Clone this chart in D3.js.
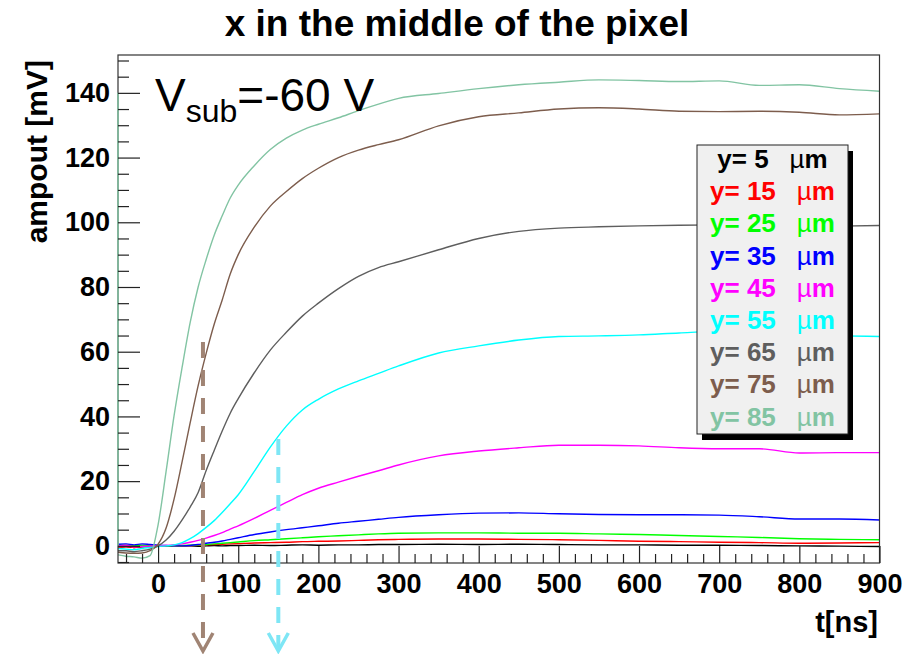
<!DOCTYPE html>
<html>
<head>
<meta charset="utf-8">
<script src="https://cdn.jsdelivr.net/npm/d3@7"></script>
<style>
  body { margin: 0; background: #fff; }
  svg { display: block; }
  text { font-family: "Liberation Sans", Arial, Helvetica, sans-serif; }
</style>
</head>
<body>
<svg id="chart" width="903" height="654"></svg>
<script>
// Sampling times of the amplifier output [ns]
const timesNs = [-50, -40, -30, -20, -10, 0, 10, 20, 30, 40, 50, 60, 70, 80, 90, 100,
  120, 140, 160, 180, 200, 225, 250, 275, 300,
  350, 400, 450, 500, 550, 600, 650, 700, 750, 800, 850, 900];

// Amplifier output [mV] for each injection depth y
const trace5  = [-0.4, -0.2, -0.5, -0.3, -0.2, 0, 0, 0.1, 0, 0, -0.1, 0, 0.1, 0, 0.1, 0.1,
  0.2, 0.1, 0.2, 0.3, 0.2, 0.3, 0.3, 0.4, 0.4,
  0.5, 0.4, 0.5, 0.4, 0.3, 0.3, 0.2, 0.2, 0.1, 0, -0.1, -0.2];
const trace15 = [-0.5, -0.3, -0.5, -0.3, -0.2, 0, 0, 0, 0, 0.1, 0.2, 0.3, 0.4, 0.5, 0.6, 0.7,
  0.9, 1.0, 1.1, 1.3, 1.4, 1.5, 1.7, 1.9, 2.0,
  2.1, 2.1, 2.0, 1.9, 1.7, 1.4, 1.3, 1.1, 1.0, 0.8, 0.9, 1.0];
const trace25 = [0.2, 0.3, 0, 0.2, 0, 0, 0, 0, 0.1, 0.2, 0.3, 0.4, 0.6, 0.8, 1.0, 1.2,
  1.6, 1.9, 2.2, 2.5, 2.8, 3.1, 3.4, 3.7, 3.9,
  4.0, 4.0, 3.9, 3.9, 3.7, 3.5, 3.2, 2.9, 2.6, 2.2, 2.0, 1.9];
const trace35 = [0.5, 0.6, 0.3, 0.6, 0.4, 0.2, 0.1, 0, 0, 0.1, 0.4, 0.8, 1.1, 1.5, 2.0, 2.5,
  3.5, 4.3, 5.0, 5.6, 6.2, 7.0, 7.6, 8.2, 8.8,
  9.6, 10.1, 10.2, 9.9, 9.7, 9.6, 9.6, 9.5, 9.0, 8.3, 8.3, 8.0];
const trace45 = [0, 0.2, -0.3, -0.2, -0.1, 0, 0.1, 0.3, 0.6, 1.1, 1.7, 2.4, 3.2, 4.1, 5.2, 6.2,
  8.5, 11, 13.4, 15.8, 17.8, 19.7, 21.5, 23.2, 25,
  27.8, 29.3, 30.3, 31.1, 31.1, 30.9, 30.3, 30, 30, 28.7, 28.8, 28.8];
const trace55 = [-0.8, -1, -1.2, -0.8, -0.5, -0.2, 0, 0.3, 1, 2.2, 3.8, 5.7, 7.8, 10.3, 13, 15.8,
  23, 30.5, 37, 42, 45.3, 48.5, 51, 53.3, 55.6,
  59.6, 61.8, 63.6, 64.7, 64.9, 65.2, 65.8, 66.3, 66.1, 65.2, 64.9, 64.7];
const trace65 = [-1.5, -1.5, -1.8, -1.5, -1, 0, 1.8, 4.5, 8, 12, 16.5, 23.3, 29.5, 35.5, 41, 45.5,
  53.5, 60.5, 66, 71, 75, 79.5, 83.3, 86, 87.8,
  91.5, 95, 97.2, 98.2, 98.6, 98.9, 99.1, 99.2, 99, 98.7, 98.8, 99];
const trace75 = [-2, -2.2, -2.3, -2.2, -1.5, 0.5, 5.5, 14.5, 26, 38, 49.5, 59.5, 68.5, 76, 84, 90,
  98.5, 105, 109.5, 113.5, 116.7, 120, 122.3, 124, 125.5,
  129.8, 132.6, 133.8, 135, 135.4, 135, 134.3, 134.2, 134.3, 134, 133.2, 133.5];
const trace85 = [-2.8, -3.2, -3.4, -3.8, -3.0, 6.5, 23, 40.3, 55.2, 69, 80, 88.5, 96, 102, 107.5, 111.5,
  117.5, 122.5, 126, 128.5, 130.3, 132.3, 134.5, 136.5, 138.3,
  139.8, 141.3, 142.5, 143.3, 144, 143.8, 143.5, 143.7, 142.3, 142.5, 141.3, 140.5];

const depthsUm = [5, 15, 25, 35, 45, 55, 65, 75, 85];
const traces = [trace5, trace15, trace25, trace35, trace45, trace55, trace65, trace75, trace85];
const traceColors = ["#000000", "#ff0000", "#00ff00", "#0000ff", "#ff00ff",
  "#00ffff", "#5e5e5e", "#7d5d4d", "#82c4a3"];

// Marked times (dashed arrows) and the amplitude where each marker starts
const markerTimes = [56, 150];
const markerTops = [63, 33];
const markerColors = ["#a08474", "#7ee6f5"];

// Tick values
const xMajorTicks = d3.range(0, 901, 100);
const xMinorTicks = d3.range(-40, 901, 20).filter(v => v % 100 !== 0);
const yMajorTicks = d3.range(0, 141, 20);
const yMinorTicks = d3.range(-5, 151, 5).filter(v => v % 20 !== 0);

const svg = d3.select("#chart");
const L = 118, R = 879.5, T = 55, B = 563;

const x = d3.scaleLinear().domain([-50, 900]).range([L, R]);
const y = d3.scaleLinear().domain([-5.3, 151.7]).range([B, T]);

svg.append("rect").attr("width", 903).attr("height", 654).attr("fill", "#fff");

svg.append("defs").append("clipPath").attr("id", "plotClip")
  .append("rect").attr("x", L).attr("y", T).attr("width", R - L).attr("height", B - T);

// Traces
const line = d3.line().x((d, i) => x(timesNs[i])).y(d => y(d)).curve(d3.curveMonotoneX);
const traceG = svg.append("g").attr("clip-path", "url(#plotClip)");
traces.forEach((vals, k) => {
  traceG.append("path")
    .attr("d", line(vals))
    .attr("fill", "none")
    .attr("stroke", traceColors[k])
    .attr("stroke-width", 1.4)
    .attr("stroke-linejoin", "round");
});

// Frame
svg.append("rect").attr("x", L).attr("y", T).attr("width", R - L).attr("height", B - T)
  .attr("fill", "none").attr("stroke", "#333").attr("stroke-width", 1.2);

// The 85 um trace enters along the left edge of the window
svg.append("line")
  .attr("x1", L).attr("x2", L)
  .attr("y1", y(0)).attr("y2", y(140))
  .attr("stroke", traceColors[8]).attr("stroke-width", 1.5);

// Axes (ticks point into the frame)
function styleAxis(g, size) {
  g.select(".domain").remove();
  g.selectAll("line").attr("stroke", "#222").attr("stroke-width", 1.2);
  g.selectAll("text")
    .attr("fill", "#000")
    .style("font-family", "'Liberation Sans', Arial, sans-serif")
    .style("font-weight", "bold")
    .style("font-size", size + "px");
}

svg.append("g").attr("transform", `translate(0,${B})`)
  .call(d3.axisBottom(x).tickValues(xMinorTicks).tickSize(-9).tickFormat(""))
  .call(g => styleAxis(g, 27));
svg.append("g").attr("transform", `translate(0,${B})`)
  .call(d3.axisBottom(x).tickValues(xMajorTicks).tickSize(-17).tickPadding(11).tickFormat(d3.format("d")))
  .call(g => styleAxis(g, 27));

svg.append("g").attr("transform", `translate(${L},0)`)
  .call(d3.axisLeft(y).tickValues(yMinorTicks).tickSize(-11).tickFormat(""))
  .call(g => styleAxis(g, 27));
svg.append("g").attr("transform", `translate(${L},0)`)
  .call(d3.axisLeft(y).tickValues(yMajorTicks).tickSize(-22).tickPadding(8).tickFormat(d3.format("d")))
  .call(g => styleAxis(g, 27));

// Axis titles
svg.append("text")
  .attr("x", 878).attr("y", 632)
  .attr("text-anchor", "end")
  .style("font-weight", "bold").style("font-size", "29px")
  .text("t[ns]");

svg.append("text")
  .attr("transform", "translate(47,60) rotate(-90)")
  .attr("text-anchor", "end")
  .style("font-weight", "bold").style("font-size", "30px")
  .text("ampout [mV]");

// Title
svg.append("text")
  .attr("x", 457).attr("y", 36)
  .attr("text-anchor", "middle")
  .style("font-weight", "bold").style("font-size", "37px")
  .text("x in the middle of the pixel");

// Bias voltage annotation
const vt = svg.append("text").attr("x", 155).attr("y", 111).style("font-size", "46px");
vt.append("tspan").text("V");
vt.append("tspan").attr("dy", 11).style("font-size", "32px").text("sub");
vt.append("tspan").attr("dy", -11).text("=-60 V");

// Dashed arrows marking times
markerTimes.forEach((t, i) => {
  const px = x(t);
  const tipY = 651;
  svg.append("line")
    .attr("x1", px).attr("x2", px)
    .attr("y1", y(markerTops[i])).attr("y2", tipY - 3)
    .attr("stroke", markerColors[i]).attr("stroke-width", 4)
    .attr("stroke-dasharray", "16,12");
  svg.append("path")
    .attr("d", `M${px - 10},${tipY - 18}L${px},${tipY}L${px + 10},${tipY - 18}`)
    .attr("fill", "none")
    .attr("stroke", markerColors[i]).attr("stroke-width", 3.5);
});

// Legend
const lgX = 697, lgY = 145, lgW = 151, lgH = 289;
svg.append("rect").attr("x", lgX + 5).attr("y", lgY + 6).attr("width", lgW).attr("height", lgH)
  .attr("fill", "#000");
svg.append("rect").attr("x", lgX).attr("y", lgY).attr("width", lgW).attr("height", lgH)
  .attr("fill", "#f0f0f0").attr("stroke", "#222").attr("stroke-width", 1);

const rowH = 32.2;
depthsUm.forEach((d, i) => {
  const g = svg.append("g");
  const by = lgY + 23 + i * rowH;
  const lab = g.append("text").attr("y", by)
    .attr("fill", traceColors[i])
    .style("font-weight", "bold").style("font-size", "26px")
    .text(`y= ${d}`);
  const unit = g.append("text").attr("y", by)
    .attr("fill", traceColors[i])
    .style("font-size", "26px");
  unit.append("tspan").style("font-weight", "normal").text("\u00b5");
  unit.append("tspan").style("font-weight", "bold").text("m");
  const w1 = lab.node().getComputedTextLength();
  const w2 = unit.node().getComputedTextLength();
  const gap = 21;
  const x0 = lgX + lgW / 2 - (w1 + gap + w2) / 2;
  lab.attr("x", x0);
  unit.attr("x", x0 + w1 + gap);
});
</script>
</body>
</html>
